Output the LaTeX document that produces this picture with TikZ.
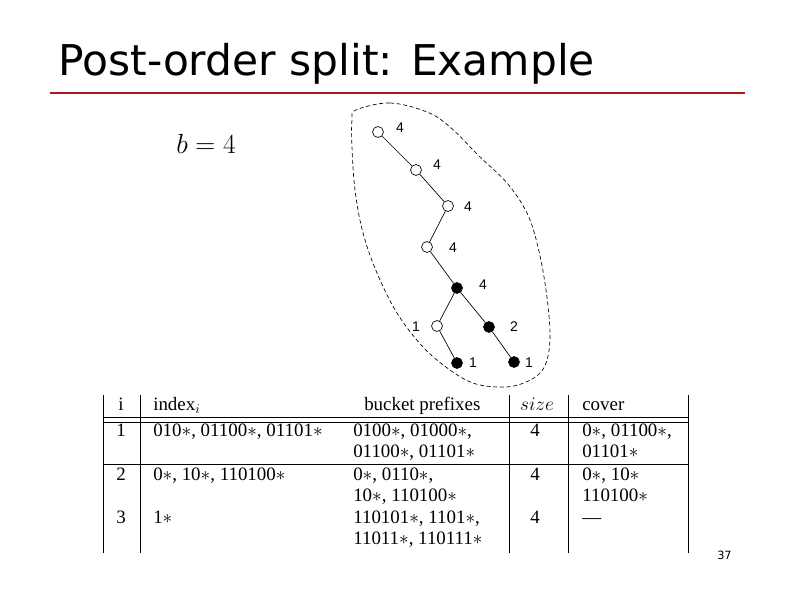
\documentclass[tikz,border=0pt]{standalone}
\usepackage{fontspec}
\setmainfont{Liberation Serif}
\newfontfamily\titlefont{DejaVu Sans}
\newfontfamily\labelfont{Liberation Sans}
\usetikzlibrary{positioning}
\definecolor{slidered}{RGB}{170,25,25}

\begin{document}
\begin{tikzpicture}[
    x=0.75pt, y=-0.75pt,
    vtx/.style={circle, draw, line width=0.5pt, fill=white, minimum size=8.2pt, inner sep=0pt},
    full/.style={vtx, fill=black},
    num/.style={font=\labelfont\fontsize{10.5}{12}\selectfont, inner sep=0pt},
    cell/.style={anchor=base west, inner sep=0pt, align=left, font=\fontsize{14.2}{15.75}\selectfont},
    mid/.style={cell, anchor=base},
    rule/.style={line width=0.7pt},
    edge/.style={line width=0.5pt},
]

\useasboundingbox (0,0) rectangle (794,595);

% ---- Title ----
\node[anchor=base west, inner sep=0pt, font=\titlefont\fontsize{31.8}{36}\selectfont] (title) at (58,76)
    {Post-order split: Example};
\draw[slidered, line width=2.2pt] (50,93) -- (745,93);

% ---- Bucket size ----
\node[anchor=base west, inner sep=0pt, font=\fontsize{21.5}{24}\selectfont] (bval) at (176,154) {$b=4$};

% ---- Tree ----
\node[vtx] (t1) at (378,132) {};
\node[vtx] (t2) at (416,170) {};
\node[vtx] (t3) at (448,206) {};
\node[vtx] (t4) at (427,247) {};
\node[full] (t5) at (457,288) {};
\node[vtx] (t6) at (437,326) {};
\node[full] (t7) at (489,327) {};
\node[full] (t8) at (457,363) {};
\node[full] (t9) at (514,362) {};

\draw[edge] (t1) -- (t2);
\draw[edge] (t2) -- (t3);
\draw[edge] (t3) -- (t4);
\draw[edge] (t4) -- (t5);
\draw[edge] (t5) -- (t6);
\draw[edge] (t5) -- (t7);
\draw[edge] (t6) -- (t8);
\draw[edge] (t7) -- (t9);

% subtree sizes
\node[num] (l1) at (400,128) {4};
\node[num] (l2) at (437,165) {4};
\node[num] (l3) at (468,207) {4};
\node[num] (l4) at (453,248) {4};
\node[num] (l5) at (483,285) {4};
\node[num] (l6) at (416,327) {1};
\node[num] (l7) at (514,327) {2};
\node[num] (l8) at (473,363) {1};
\node[num] (l9) at (529,363) {1};

% bucket outline
\draw[dash pattern=on 3pt off 2pt, line width=0.5pt] plot[smooth cycle, tension=0.6] coordinates {
    (356,110) (390,103) (427,112) (450,127) (480,157) (507,183) (527,213)
    (538,247) (546,290) (550,333) (547,360) (538,375) (518,385) (497,387)
    (473,383) (450,370) (423,347) (397,313) (377,273) (363,233) (355,190)
    (352,147) (352,120)};

% ---- Table ----
\draw[rule] (103,395) -- (103,553);
\draw[rule] (140,395) -- (140,553);
\draw[rule] (509,395) -- (509,553);
\draw[rule] (568,395) -- (568,553);
\draw[rule] (688,395) -- (688,553);
\draw[rule] (103,417) -- (688,417);
\draw[rule] (103,422) -- (688,422);
\draw[rule] (103,464) -- (688,464);

% header
\node[mid] (hi) at (121,411) {i};
\node[cell] (hidx) at (153,411) {index$_i$};
\node[cell] (hbkt) at (364,411) {bucket prefixes};
\node[mid] (hsize) at (537,411) {$size$};
\node[cell] (hcov) at (582,411) {cover};

% row 1 (two-line cells sit on their last baseline)
\node[mid] (r1i) at (121,437) {1};
\node[cell] (r1idx) at (153,437) {010$*$, 01100$*$, 01101$*$};
\node[cell] (r1bkt) at (353,458) {0100$*$, 01000$*$,\\01100$*$, 01101$*$};
\node[mid] (r1s) at (535,437) {4};
\node[cell] (r1cov) at (582,458) {0$*$, 01100$*$,\\01101$*$};

% row 2
\node[mid] (r2i) at (121,481) {2};
\node[cell] (r2idx) at (153,481) {0$*$, 10$*$, 110100$*$};
\node[cell] (r2bkt) at (353,502) {0$*$, 0110$*$,\\10$*$, 110100$*$};
\node[mid] (r2s) at (535,481) {4};
\node[cell] (r2cov) at (582,502) {0$*$, 10$*$\\110100$*$};

% row 3
\node[mid] (r3i) at (121,524) {3};
\node[cell] (r3idx) at (153,524) {1$*$};
\node[cell] (r3bkt) at (353,545) {110101$*$, 1101$*$,\\11011$*$, 110111$*$};
\node[mid] (r3s) at (535,524) {4};
\node[cell] (r3cov) at (582,524) {---};

% ---- Page number ----
\node[anchor=base west, inner sep=0pt, font=\titlefont\fontsize{8.5}{10}\selectfont] (page) at (717,560) {37};

\end{tikzpicture}
\end{document}
